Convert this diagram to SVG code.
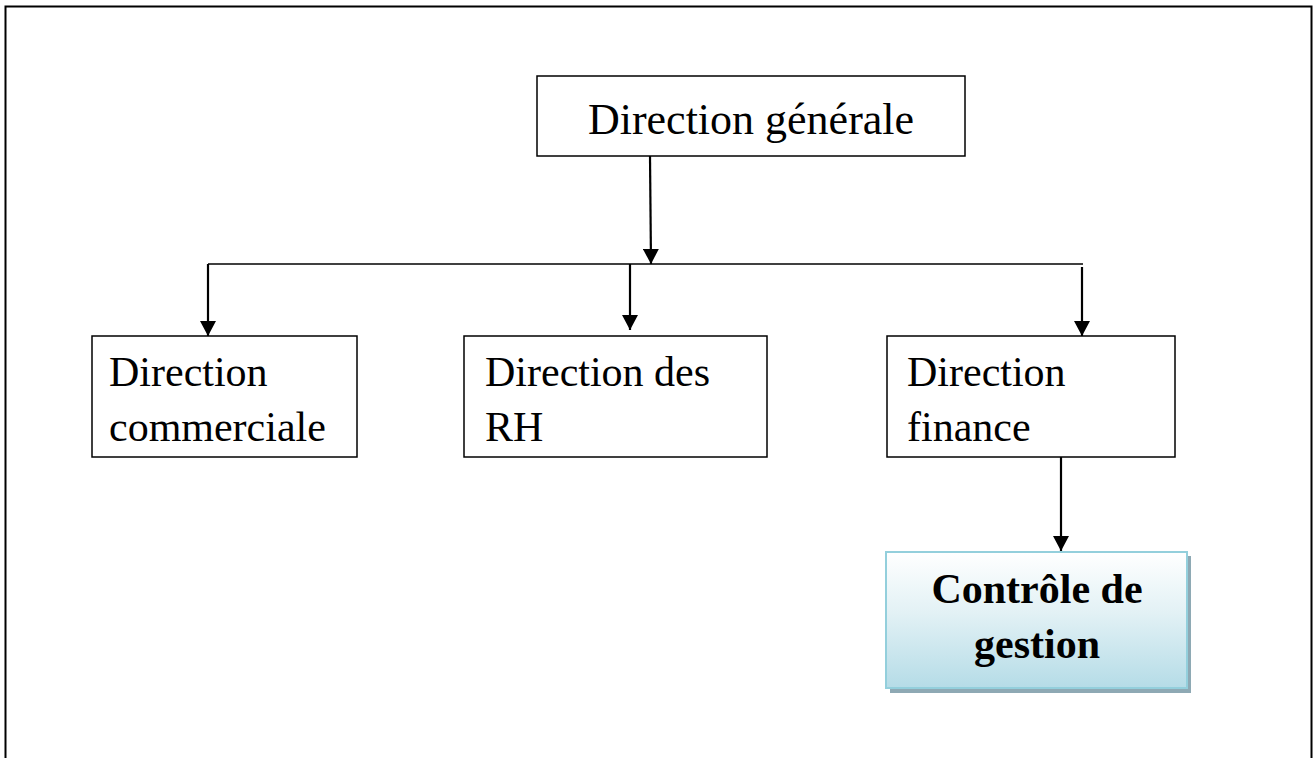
<svg xmlns="http://www.w3.org/2000/svg" width="1313" height="758" viewBox="0 0 1313 758">
  <style>
    .box { fill: #ffffff; stroke: #000000; stroke-width: 1.5; }
    .lbl { font-family: "Liberation Serif", "Times New Roman", serif; fill: #000000; }
    .sub { font-size: 42px; }
    .wire { fill: none; stroke: #000000; stroke-width: 2.2; }
    .bus { fill: none; stroke: #000000; stroke-width: 1.6; }
  </style>
  <defs>
    <marker id="head" viewBox="0 0 15 16" refX="15" refY="8" markerWidth="15" markerHeight="16" markerUnits="userSpaceOnUse" orient="auto">
      <path d="M0,0 L15,8 L0,16 Z" fill="#000000"/>
    </marker>
    <linearGradient id="cg-fill" x1="0" y1="0" x2="0" y2="1">
      <stop offset="0" stop-color="#ffffff"/>
      <stop offset="0.45" stop-color="#e2f1f5"/>
      <stop offset="1" stop-color="#b5dce7"/>
    </linearGradient>
  </defs>

  <rect width="1313" height="758" fill="#ffffff"/>
  <!-- page frame -->
  <rect x="5.5" y="6.5" width="1306" height="760" fill="none" stroke="#000000" stroke-width="2"/>

  <g id="connectors">
    <line class="wire" x1="650" y1="156" x2="651" y2="264" marker-end="url(#head)"/>
    <line class="bus" x1="208" y1="264" x2="1083" y2="264"/>
    <line class="wire" x1="208" y1="264" x2="208" y2="336" marker-end="url(#head)"/>
    <line class="wire" x1="630" y1="264" x2="630" y2="330" marker-end="url(#head)"/>
    <line class="wire" x1="1082" y1="267" x2="1082" y2="336" marker-end="url(#head)"/>
    <line class="wire" x1="1061" y1="457" x2="1061" y2="551" marker-end="url(#head)"/>
  </g>

  <g id="direction-generale">
    <rect class="box" x="537" y="76" width="428" height="80"/>
    <text class="lbl" x="751" y="134" font-size="44" text-anchor="middle">Direction générale</text>
  </g>

  <g id="direction-commerciale">
    <rect class="box" x="92" y="336" width="265" height="121"/>
    <text class="lbl sub" x="109" y="386">Direction</text>
    <text class="lbl sub" x="109" y="441">commerciale</text>
  </g>

  <g id="direction-rh">
    <rect class="box" x="464" y="336" width="303" height="121"/>
    <text class="lbl sub" x="485" y="386">Direction des</text>
    <text class="lbl sub" x="485" y="441">RH</text>
  </g>

  <g id="direction-finance">
    <rect class="box" x="887" y="336" width="288" height="121"/>
    <text class="lbl sub" x="907" y="386">Direction</text>
    <text class="lbl sub" x="907" y="441">finance</text>
  </g>

  <g id="controle-de-gestion">
    <rect x="890" y="556" width="301" height="137" fill="#8ea9b4"/>
    <rect x="886" y="552" width="301" height="136" fill="url(#cg-fill)" stroke="#93cfdc" stroke-width="2"/>
    <text class="lbl" x="1037" y="603" font-size="42" font-weight="bold" text-anchor="middle">Contrôle de</text>
    <text class="lbl" x="1037" y="658" font-size="42" font-weight="bold" text-anchor="middle">gestion</text>
  </g>
</svg>
